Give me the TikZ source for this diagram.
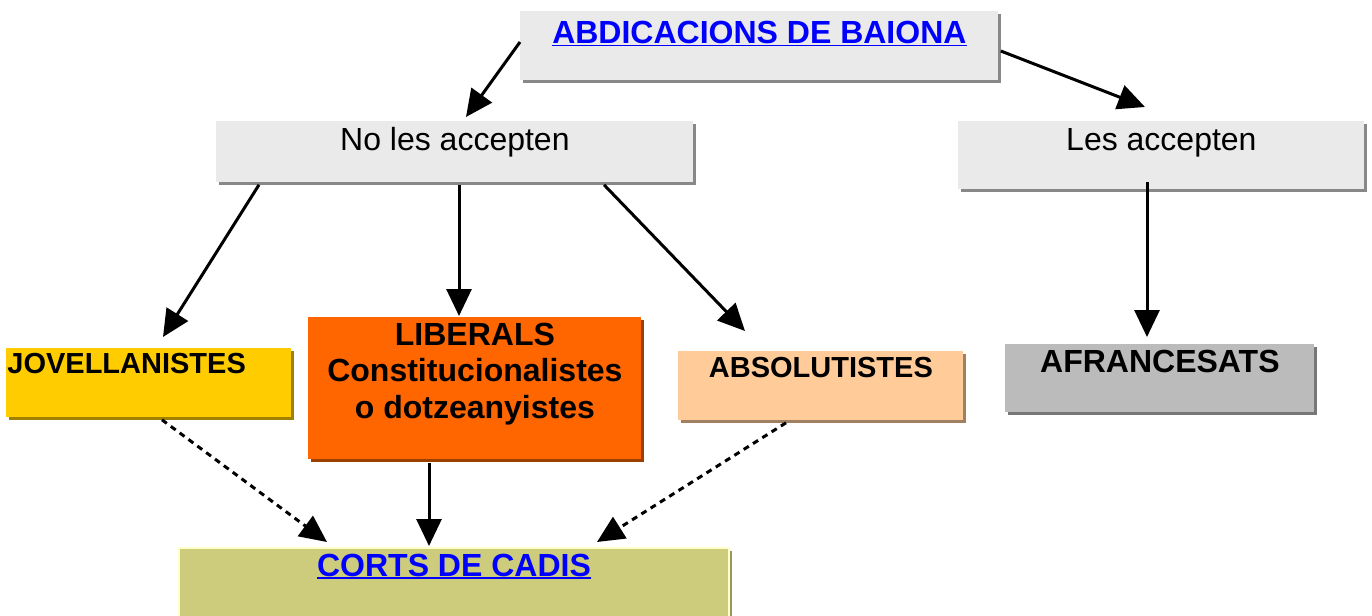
\documentclass[tikz,border=0pt]{standalone}
\usepackage{fontspec}
\setmainfont{Liberation Sans}
\usetikzlibrary{arrows.meta,shadows,calc}
\definecolor{linkblue}{HTML}{0000FF}
\definecolor{boxgray}{HTML}{EAEAEA}
\definecolor{grayshadow}{HTML}{888888}
\definecolor{jovfill}{HTML}{FFCC00}
\definecolor{jovshadow}{HTML}{A08000}
\definecolor{libfill}{HTML}{FF6600}
\definecolor{libshadow}{HTML}{9C4000}
\definecolor{absfill}{HTML}{FFCC99}
\definecolor{absshadow}{HTML}{A08060}
\definecolor{afrfill}{HTML}{BBBBBB}
\definecolor{afrshadow}{HTML}{777777}
\definecolor{corfill}{HTML}{CCCC7C}
\definecolor{corborder}{HTML}{FFFFCC}
\definecolor{corshadow}{HTML}{999955}
\newcommand\linktext[1]{\setbox0\hbox{#1}\rlap{\rule[-1.5pt]{\wd0}{0.9pt}}\box0}
\begin{document}
\begin{tikzpicture}[x=0.5pt,y=-0.5pt,
  box/.style={anchor=north west, inner sep=0pt, font=\fontsize{16}{18.25}\selectfont\bfseries},
  plainbox/.style={box, font=\fontsize{16}{18.25}\selectfont},
  shade/.style={general shadow={fill=#1, shadow xshift=1.5pt, shadow yshift=-1.5pt}},
  arr/.style={line width=1.5pt, -{Triangle[length=13.5pt,width=12.5pt]}},
  dsh/.style={arr, dash pattern=on 3pt off 2.5pt}]
\clip (0,0) rectangle (1372,616);
% boxes
\node[box, shade=grayshadow, fill=boxgray, minimum width=239pt, text height=16pt, text depth=18.5pt, text=linkblue]
  (abd) at (520,11) {\linktext{ABDICACIONS DE BAIONA}};
\node[plainbox, shade=grayshadow, fill=boxgray, minimum width=238.5pt, text height=14.5pt, text depth=16pt]
  (nola) at (216,121) {No les accepten};
\node[plainbox, shade=grayshadow, fill=boxgray, minimum width=203pt, text height=14.5pt, text depth=19.5pt]
  (les) at (958,121) {Les accepten};
\node[box, shade=jovshadow, fill=jovfill, font=\fontsize{14.5}{17}\selectfont\bfseries, minimum width=142.5pt, inner xsep=0.5pt, text height=12.5pt, text depth=22pt]
  (jov) at (6,348) {\makebox[141.5pt][l]{JOVELLANISTES}};
\node[box, shade=libshadow, fill=libfill, minimum width=166.5pt, text height=14pt, text depth=57pt]
  (lib) at (308,317) {\begin{tabular}[t]{@{}c@{}}LIBERALS\\Constitucionalistes\\o dotzeanyistes\end{tabular}};
\node[box, shade=absshadow, fill=absfill, font=\fontsize{14.5}{17}\selectfont\bfseries, minimum width=142.5pt, text height=13pt, text depth=21.5pt]
  (abs) at (678,351) {ABSOLUTISTES};
\node[box, shade=afrshadow, fill=afrfill, minimum width=154.5pt, text height=14pt, text depth=20pt]
  (afr) at (1005,344) {AFRANCESATS};
\node[box, shade=corshadow, fill=corfill, draw=corborder, line width=1pt, minimum width=275pt, text height=14pt, text depth=26pt, text=linkblue]
  (cor) at (178,547) {\linktext{CORTS DE CADIS}};
% connectors
\draw[arr] ($(abd.north west)+(0,31)$) -- ($(nola.north west)+(250,-4)$);
\draw[arr] ($(abd.north east)+(2,40)$) -- ($(les.north west)+(187,-14)$);
\draw[arr] ($(nola.south west)+(43,2)$) -- ($(jov.north west)+(157,-11)$);
\draw[arr] ($(nola.south west)+(243,2)$) -- ($(lib.north west)+(151,-1)$);
\draw[arr] ($(nola.south west)+(388,2)$) -- ($(abs.north west)+(67,-20)$);
\draw[arr] ($(les.north west)+(189,61)$) -- ($(afr.north west)+(142,-7)$);
\draw[dsh] ($(jov.south west)+(156,2)$) -- ($(cor.north west)+(149,-5)$);
\draw[arr] ($(lib.south west)+(121,3)$) -- ($(cor.north west)+(251,-1)$);
\draw[dsh] ($(abs.south west)+(108,2)$) -- ($(cor.north west)+(419,-5)$);
\end{tikzpicture}
\end{document}
